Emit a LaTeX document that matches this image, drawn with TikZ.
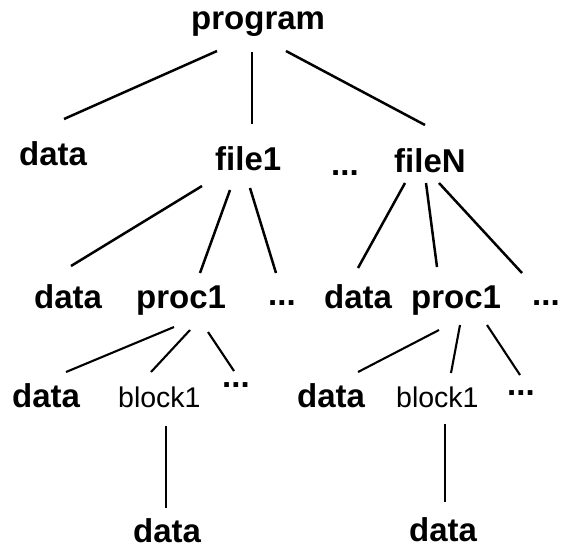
\documentclass[tikz,border=0pt]{standalone}
\usepackage{fontspec}
\setmainfont{Liberation Sans}
\tikzset{
  lbl/.style={anchor=base west, inner sep=0pt, font=\fontsize{33}{36}\selectfont\bfseries},
  small/.style={anchor=base west, inner sep=0pt, font=\fontsize{28.5}{32}\selectfont},
  edge/.style={line width=2.5pt},
  thinedge/.style={line width=2.1pt}
}
\begin{document}
\begin{tikzpicture}[x=1pt,y=-1pt]
\fill[white] (0,0) rectangle (561,550);
\useasboundingbox (0,0) rectangle (561,550);
% row 1
\node[lbl] (program) at (191,29) {program};
% row 2
\node[lbl] (data1) at (19,165) {data};
\node[lbl] (file1) at (215,170) {file1};
\node[lbl] (dots1) at (331,175) {...};
\node[lbl] (fileN) at (394,172) {fileN};
% row 3
\node[lbl] (data2) at (34,308) {data};
\node[lbl] (proc1a) at (136,308) {proc1};
\node[lbl] (dots2) at (268,305) {...};
\node[lbl] (data3) at (324,308) {data};
\node[lbl] (proc1b) at (411,308) {proc1};
\node[lbl] (dots3) at (532,305) {...};
% row 4
\node[lbl] (data4) at (12,407) {data};
\node[small] (block1a) at (118,407) {block1};
\node[lbl] (dots4) at (222,387) {...};
\node[lbl] (data5) at (297,407) {data};
\node[small] (block1b) at (396,407) {block1};
\node[lbl] (dots5) at (507,395) {...};
% row 5
\node[lbl] (data6) at (133,542) {data};
\node[lbl] (data7) at (409,541) {data};
% edges from program
\draw[edge] ([shift={(26,22)}]program.base west) -- ([shift={(45,-46)}]data1.base west);
\draw[edge] ([shift={(61,23)}]program.base west) -- ([shift={(37,-46)}]file1.base west);
\draw[edge] ([shift={(95,22)}]program.base west) -- ([shift={(31,-47)}]fileN.base west);
% edges from file1
\draw[edge] ([shift={(-13,16)}]file1.base west) -- ([shift={(37,-42)}]data2.base west);
\draw[edge] ([shift={(15,20)}]file1.base west) -- ([shift={(64,-35)}]proc1a.base west);
\draw[edge] ([shift={(35,18)}]file1.base west) -- ([shift={(8,-32)}]dots2.base west);
% edges from fileN
\draw[edge] ([shift={(11,11)}]fileN.base west) -- ([shift={(34,-40)}]data3.base west);
\draw[edge] ([shift={(32,11)}]fileN.base west) -- ([shift={(26,-41)}]proc1b.base west);
\draw[edge] ([shift={(45,11)}]fileN.base west) -- ([shift={(-10,-32)}]dots3.base west);
% edges from proc1 (left)
\draw[thinedge] ([shift={(38,19)}]proc1a.base west) -- ([shift={(54,-35)}]data4.base west);
\draw[thinedge] ([shift={(54,22)}]proc1a.base west) -- ([shift={(33,-35)}]block1a.base west);
\draw[thinedge] ([shift={(72,24)}]proc1a.base west) -- ([shift={(12,-16)}]dots4.base west);
% edges from proc1 (right)
\draw[thinedge] ([shift={(28,22)}]proc1b.base west) -- ([shift={(61,-35)}]data5.base west);
\draw[thinedge] ([shift={(49,17)}]proc1b.base west) -- ([shift={(55,-34)}]block1b.base west);
\draw[thinedge] ([shift={(76,17)}]proc1b.base west) -- ([shift={(13,-20)}]dots5.base west);
% block1 to data
\draw[edge] ([shift={(48,19)}]block1a.base west) -- ([shift={(33,-34)}]data6.base west);
\draw[edge] ([shift={(49,17)}]block1b.base west) -- ([shift={(36,-39)}]data7.base west);
\end{tikzpicture}
\end{document}
